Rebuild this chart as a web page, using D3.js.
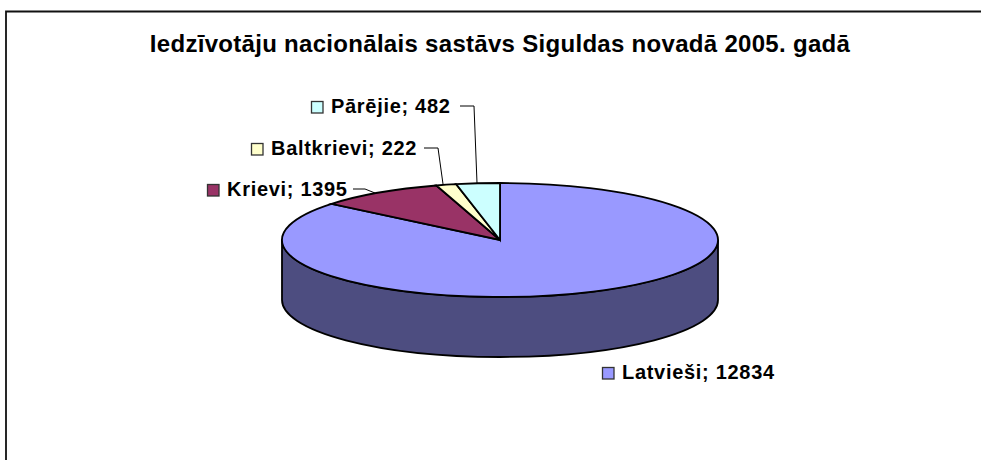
<!DOCTYPE html>
<html>
    <head>
        <title>Iedzīvotāju nacionālais sastāvs</title>
        <meta charset="utf-8">
        <script src="https://d3js.org/d3.v7.min.js"></script>
        <style>
            html, body { margin: 0; padding: 0; background: #fff; }
            svg { display: block; }
            text { font-family: "Liberation Sans", Arial, sans-serif; font-weight: bold; fill: #000; }
        </style>
    </head>
    <body>
        <svg width="981" height="460">
            <script type="text/javascript">
                var titleText = "Iedzīvotāju nacionālais sastāvs Siguldas novadā 2005. gadā";
                var groups = ["Latvieši", "Krievi", "Baltkrievi", "Pārējie"];
                var counts = [12834, 1395, 222, 482];
                var colors = ["#9999ff", "#993366", "#ffffcc", "#ccffff"];

                var svg = d3.select("svg");
                var cx = 500, cy = 240, rx = 218, ry = 57, depth = 60;

                // frame, only top and left are in the picture
                svg.append("path")
                .attr("d", "M6,460V11.5H981")
                .attr("fill", "none")
                .attr("stroke", "#111")
                .attr("stroke-width", 1.8);

                svg.append("text")
                .attr("x", 500)
                .attr("y", 52)
                .attr("text-anchor", "middle")
                .style("font-size", "24px")
                .style("letter-spacing", "0.3px")
                .text(titleText);

                var pie = d3.pie().sort(null);
                var slices = pie(counts);

                // side wall, only the front half can be seen
                svg.append("path")
                .attr("d", "M" + (cx - rx) + "," + cy
                    + "A" + rx + "," + ry + " 0 0 0 " + (cx + rx) + "," + cy
                    + "V" + (cy + depth)
                    + "A" + rx + "," + ry + " 0 0 1 " + (cx - rx) + "," + (cy + depth)
                    + "Z")
                .attr("fill", "#4d4d80")
                .attr("stroke", "#000")
                .attr("stroke-width", 1.8);

                var arc = d3.arc().innerRadius(0).outerRadius(rx);

                svg.append("g")
                .attr("transform", "translate(" + cx + "," + cy + ") scale(1," + (ry / rx) + ")")
                .selectAll("path")
                .data(slices)
                .enter()
                .append("path")
                .attr("d", arc)
                .attr("fill", function(d, i) {
                    return colors[i];
                })
                .attr("stroke", "#000")
                .attr("stroke-width", 1.8)
                .attr("vector-effect", "non-scaling-stroke");

                // swatch left edge, text baseline
                var labelPos = [
                    { x: 602, y: 379 },
                    { x: 207, y: 196 },
                    { x: 251, y: 155 },
                    { x: 311, y: 113 }
                ];

                var labels = svg.selectAll("g.label")
                .data(groups)
                .enter()
                .append("g")
                .attr("class", "label")
                .attr("transform", function(d, i) {
                    return "translate(" + labelPos[i].x + "," + labelPos[i].y + ")";
                });

                labels.append("rect")
                .attr("x", 0.5)
                .attr("y", -11.5)
                .attr("width", 11.5)
                .attr("height", 11.5)
                .attr("fill", function(d, i) {
                    return colors[i];
                })
                .attr("stroke", "#333")
                .attr("stroke-width", 1.3);

                labels.append("text")
                .attr("x", 20)
                .attr("y", 0)
                .style("font-size", "20px")
                .style("letter-spacing", "0.7px")
                .text(function(d, i) {
                    return d + "; " + counts[i];
                });

                // leader lines
                var leaders = [
                    [[353, 189], [365, 189], [375, 193]],
                    [[424, 148], [438, 148], [443, 184]],
                    [[460, 106], [474, 106], [477, 183]]
                ];

                svg.selectAll("path.leader")
                .data(leaders)
                .enter()
                .append("path")
                .attr("class", "leader")
                .attr("d", d3.line())
                .attr("fill", "none")
                .attr("stroke", "#000")
                .attr("stroke-width", 1);
            </script>
        </svg>
    </body>
</html>
